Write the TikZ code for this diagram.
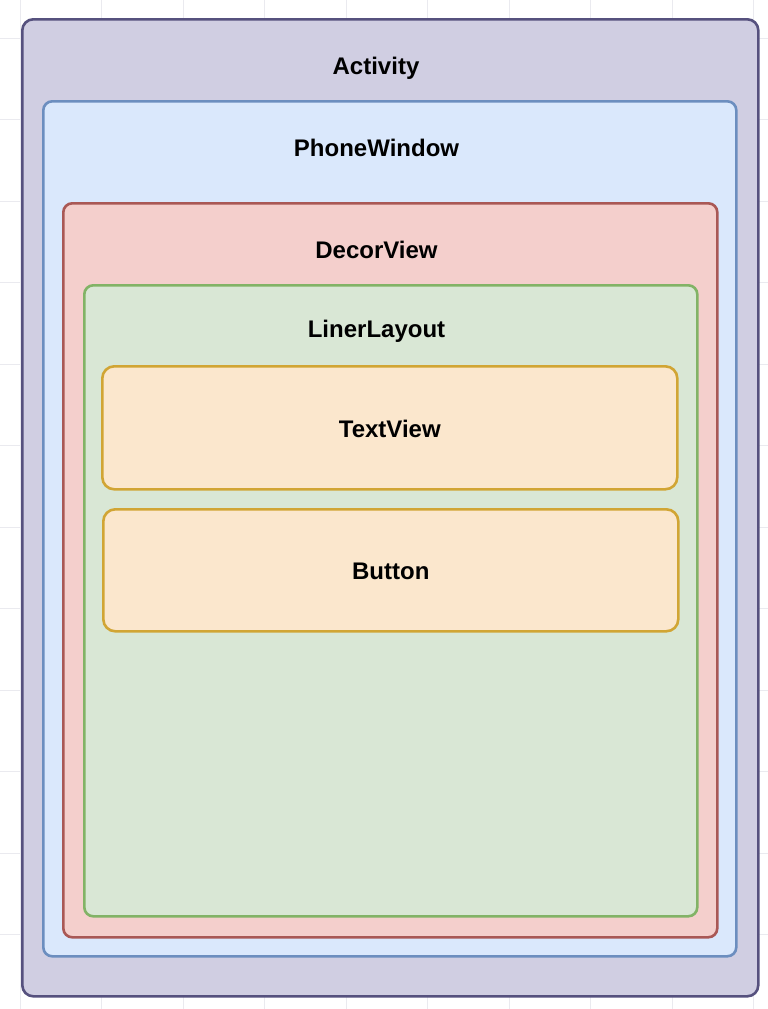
\documentclass[tikz,border=0pt]{standalone}
\usepackage{fontspec}
\setmainfont{Liberation Sans}
\definecolor{actfill}{HTML}{D0CEE2}
\definecolor{actline}{HTML}{56517E}
\definecolor{pwfill}{HTML}{DAE8FC}
\definecolor{pwline}{HTML}{6C8EBF}
\definecolor{dvfill}{HTML}{F4CFCC}
\definecolor{dvline}{HTML}{A95855}
\definecolor{llfill}{HTML}{D9E7D5}
\definecolor{llline}{HTML}{82B366}
\definecolor{tvfill}{HTML}{FBE7CD}
\definecolor{tvline}{HTML}{D1A534}
\definecolor{gridc}{HTML}{EAEAEF}
\tikzset{
  box/.style={draw, rounded corners=9pt, line width=2.6pt, anchor=north west, inner sep=0pt},
  lbl/.style={font=\fontsize{24}{28}\selectfont\bfseries, text=black, inner sep=0pt}
}
\begin{document}
\begin{tikzpicture}[x=1pt,y=-1pt]
\useasboundingbox (0,0) rectangle (768,1009);
\fill[white] (0,0) rectangle (768,1009);
\foreach \gx in {20,101.5,183,264.5,346,427.5,509,590.5,672,753.5}
  \draw[gridc, line width=1pt] (\gx,0) -- (\gx,1009);
\foreach \gy in {38,119.5,201,282.5,364,445.5,527,608.5,690,771.5,853,934.5}
  \draw[gridc, line width=1pt] (0,\gy) -- (768,\gy);
\node[box, fill=actfill, draw=actline, minimum width=736pt, minimum height=977pt, rounded corners=11pt] (activity) at (21,18) {};
\node[box, fill=pwfill, draw=pwline, minimum width=693pt, minimum height=855pt] (phonewindow) at (42,100) {};
\node[box, fill=dvfill, draw=dvline, minimum width=654pt, minimum height=734pt] (decorview) at (62,202) {};
\node[box, fill=llfill, draw=llline, minimum width=613pt, minimum height=631pt] (linerlayout) at (83,284) {};
\node[box, fill=tvfill, draw=tvline, minimum width=575pt, minimum height=123pt, rounded corners=12pt] (textview) at (101,365) {};
\node[box, fill=tvfill, draw=tvline, minimum width=575pt, minimum height=122pt, rounded corners=12pt] (button) at (102,508) {};
\node[lbl] (activitylbl) at (376,68) {Activity};
\node[lbl] (phonewindowlbl) at (376.5,148) {PhoneWindow};
\node[lbl] (decorviewlbl) at (376.5,250) {DecorView};
\node[lbl] (linerlayoutlbl) at (376.5,331) {LinerLayout};
\node[lbl] (textviewlbl) at ([yshift=-1pt]textview.center) {TextView};
\node[lbl] (buttonlbl) at ([yshift=-1pt]button.center) {Button};
\end{tikzpicture}
\end{document}
